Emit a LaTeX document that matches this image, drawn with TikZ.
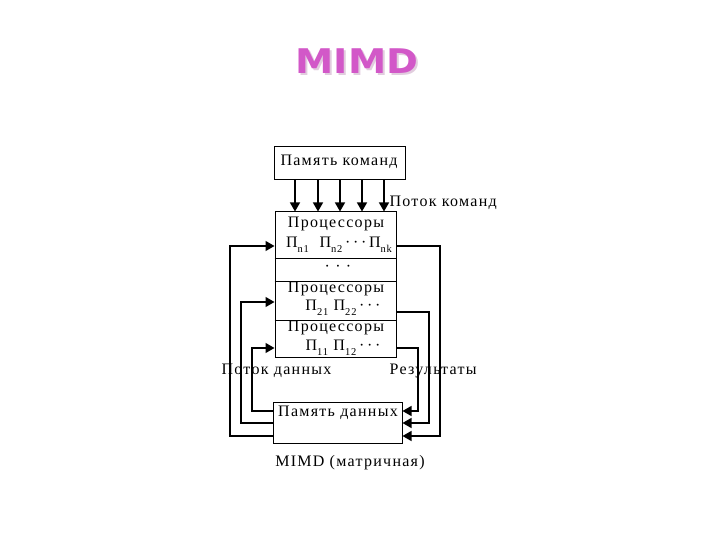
\documentclass[tikz,border=0pt]{standalone}
\usepackage{fontspec}
\setmainfont{Liberation Serif}[LetterSpace=8]
\newfontfamily\titlefont{DejaVu Sans}
\usetikzlibrary{arrows.meta}
\definecolor{titlecol}{RGB}{210,88,200}
\definecolor{shadowcol}{RGB}{225,205,222}
\newcommand\mysub[1]{\raisebox{-0.3em}{\fontsize{10.5}{10.5}\selectfont #1}}
\begin{document}
\begin{tikzpicture}[x=1pt,y=-1pt,line width=1.2pt,
  >={Triangle[length=9pt,width=10pt]},
  lbl/.style={font=\fontsize{16}{16}\selectfont,inner sep=0pt},
  box/.style={draw,line width=1pt,inner sep=0pt}]
\useasboundingbox (0,0) rectangle (720,540);
% title
\node[text=shadowcol,inner sep=0pt] (titleshadow) at (359,63) {\scalebox{1.13}[1]{\titlefont\bfseries\fontsize{34}{34}\selectfont MIMD}};
\node[text=titlecol,inner sep=0pt] (title) at (357,61) {\scalebox{1.13}[1]{\titlefont\bfseries\fontsize{34}{34}\selectfont MIMD}};
% boxes
\node[box,minimum width=131pt,minimum height=33pt] (cmdmem) at (339.5,163.5) {};
\node[lbl] (cmdmemlbl) at (339,162) {Память команд};
\node[box,minimum width=121pt,minimum height=145pt] (proc) at (335.5,284.5) {};
\draw[line width=1pt] (proc.west |- 0,258) coordinate (d1l) -- (proc.east |- d1l);
\draw[line width=1pt] (proc.west |- 0,281) coordinate (d2l) -- (proc.east |- d2l);
\draw[line width=1pt] (proc.west |- 0,320) coordinate (d3l) -- (proc.east |- d3l);
\node[box,minimum width=129pt,minimum height=41pt] (datamem) at (337.5,422.5) {};
\node[lbl] (datamemlbl) at (338,413) {Память данных};
% processor texts
\node[lbl] (pn) at (336,224) {Процессоры};
\node[lbl] (pnrow) at (339,245) {П\mysub{n1}\ \ П\mysub{n2}\,·\,·\,·\,П\mysub{nk}};
\node[lbl] (pdots) at (338,268) {·\ ·\ ·};
\node[lbl] (p2) at (336,289) {Процессоры};
\node[lbl] (p2row) at (343,308) {П\mysub{21} П\mysub{22}\,·\,·\,·};
\node[lbl] (p1) at (336,328) {Процессоры};
\node[lbl] (p1row) at (343,348) {П\mysub{11} П\mysub{12}\,·\,·\,·};
% labels
\node[lbl,anchor=west] (cmdflow) at (389,203) {Поток команд};
\node[lbl,anchor=west] (dataflow) at (221,371) {Поток данных};
\node[lbl,anchor=west] (results) at (389,371) {Результаты};
\node[lbl] (caption) at (350,463) {MIMD (матричная)};
% command arrows
\foreach \x [count=\i] in {295,318,340,362,384} {
  \coordinate (cx\i) at (\x,0);
  \draw[->] (cmdmem.south -| cx\i) -- (proc.north -| cx\i);
}
% reference coordinates
\coordinate (yA) at (0,246);
\coordinate (yB) at (0,302);
\coordinate (yC) at (0,348);
\coordinate (rA) at (0,246);
\coordinate (rB) at (0,312);
\coordinate (rC) at (0,348);
\coordinate (dA) at (0,436);
\coordinate (dB) at (0,423);
\coordinate (dC) at (0,411);
\coordinate (xL1) at (230,0);
\coordinate (xL2) at (241,0);
\coordinate (xL3) at (252,0);
\coordinate (xR1) at (440,0);
\coordinate (xR2) at (429,0);
\coordinate (xR3) at (418,0);
% data flow (left)
\draw[->] (datamem.west |- dA) -| (xL1 |- yA) -- (proc.west |- yA);
\draw[->] (datamem.west |- dB) -| (xL2 |- yB) -- (proc.west |- yB);
\draw[->] (datamem.west |- dC) -| (xL3 |- yC) -- (proc.west |- yC);
% results (right)
\draw[->] (proc.east |- rA) -| (xR1 |- dA) -- (datamem.east |- dA);
\draw[->] (proc.east |- rB) -| (xR2 |- dB) -- (datamem.east |- dB);
\draw[->] (proc.east |- rC) -| (xR3 |- dC) -- (datamem.east |- dC);
\end{tikzpicture}
\end{document}
